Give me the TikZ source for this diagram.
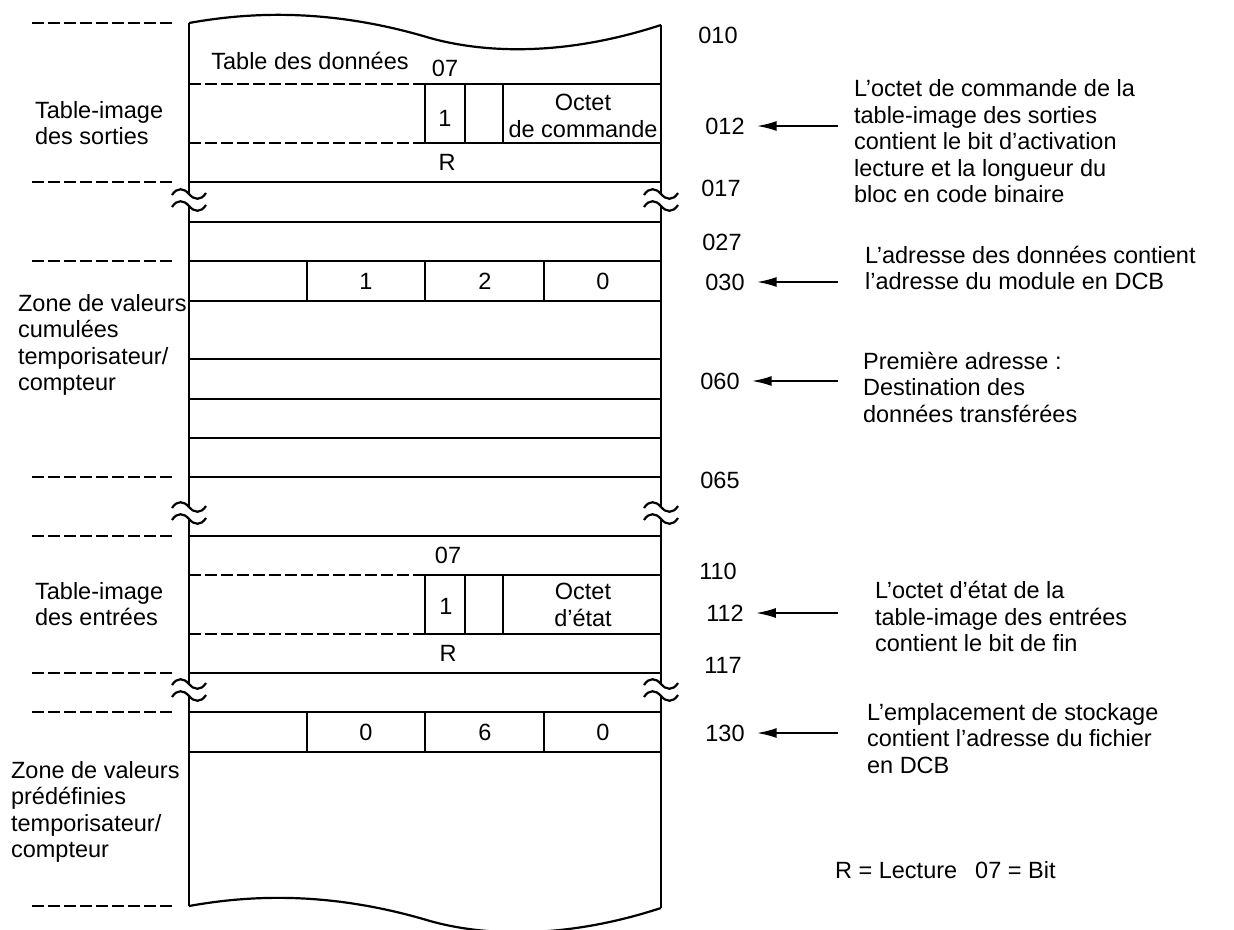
\documentclass[tikz,border=0pt]{standalone}
\usepackage{fontspec}
\setmainfont{Liberation Sans}
\usetikzlibrary{positioning, calc, arrows.meta}

\tikzset{
  cutdash/.style={dash pattern=on 11.5pt off 4.5pt},
  adr/.style={inner sep=1pt},
  note/.style={align=left, anchor=west, inner sep=0pt},
  cell/.style={inner sep=0pt},
  ptr/.style={-{Latex[length=20pt,width=10pt]}, line width=2pt, shorten >=10pt},
}

\begin{document}
\begin{tikzpicture}[
  x=1pt, y=-1pt,
  font=\fontsize{23.5}{26.5}\selectfont,
  line width=2.2pt,
]
\useasboundingbox (0,0) rectangle (1234,929);

% ---------- torn top and bottom of the table ----------
\draw (189,23) .. controls (250,12) and (330,8) .. (430,38)
  .. controls (480,52) and (560,58) .. (661,25);
\draw (189,906) .. controls (250,895) and (330,891) .. (430,921)
  .. controls (480,935) and (560,941) .. (661,908);

% ---------- side walls, cut at the breaks ----------
\draw (189,23) -- (189,194) (189,206) -- (189,507)
  (189,519) -- (189,684) (189,696) -- (189,906);
\draw (661,25) -- (661,194) (661,206) -- (661,507)
  (661,519) -- (661,684) (661,696) -- (661,908);

% ---------- break marks ----------
\foreach \yb in {194,507,684}
  \foreach \xb in {189,661} {
    \begin{scope}[shift={(\xb,\yb)}]
      \draw (-17,1) .. controls (-12,-7) and (-5,-6) .. (0,0)
        .. controls (5,6) and (12,7) .. (17,-1);
      \draw (-17,13) .. controls (-12,5) and (-5,6) .. (0,12)
        .. controls (5,18) and (12,19) .. (17,11);
    \end{scope}
  }

% ---------- word rows ----------
\foreach \y in {182,222,261,301,359,399,438,477,536,673,712,752}
  \draw (189,\y) -- (661,\y);

% control / status byte rows
\foreach \y in {84,143,575,634} {
  \draw[cutdash] (189,\y) -- (425,\y);
  \draw (425,\y) -- (661,\y);
}
\foreach \y in {84,575}
  \foreach \x in {425,465,503}
    \draw (\x,\y) -- (\x,\y+59);

% address rows (BCD digits)
\foreach \y in {261,712}
  \foreach \x in {307,425,544}
    \draw (\x,\y) -- (\x,\y+40);

% ---------- zone limits on the left ----------
\foreach \y in {23,182,261,477,536,673,712,906}
  \draw[cutdash] (32,\y) -- (172,\y);

% ---------- texts inside the table ----------
\node[cell] (tdTitle) at (310,61) {Table des données};
\node[cell] (bitOut) at (445,68) {07};
\node[cell] (oneOut) at (445,118) {1};
\node[cell, align=center] (cmdByte) at (583,116) {Octet\\de commande};
\node[cell] (rdOut) at (447,162) {R};

\node[cell] (dgA1) at (366,281) {1};
\node[cell] (dgA2) at (485,281) {2};
\node[cell] (dgA3) at (603,281) {0};

\node[cell] (bitIn) at (448,555) {07};
\node[cell] (oneIn) at (446,606) {1};
\node[cell, align=center] (stsByte) at (583,605) {Octet\\d’état};
\node[cell] (rdIn) at (448,653) {R};

\node[cell] (dgB1) at (366,732) {0};
\node[cell] (dgB2) at (485,732) {6};
\node[cell] (dgB3) at (603,732) {0};

% ---------- zone names ----------
\node[note] (zOut) at (34,123) {Table-image\\des sorties};
\node[note] (zAcc) at (17,345) {Zone de valeurs\\cumulées\\temporisateur/\\compteur};
\node[note] (zIn) at (34,604) {Table-image\\des entrées};
\node[note] (zPre) at (10,812) {Zone de valeurs\\prédéfinies\\temporisateur/\\compteur};

% ---------- addresses ----------
\node[adr] (adr010) at (718,35) {010};
\node[adr] (adr012) at (725,126) {012};
\node[adr] (adr017) at (721,188) {017};
\node[adr] (adr027) at (722,242) {027};
\node[adr] (adr030) at (725,282) {030};
\node[adr] (adr060) at (720,381) {060};
\node[adr] (adr065) at (720,480) {065};
\node[adr] (adr110) at (718,571) {110};
\node[adr] (adr112) at (725,613) {112};
\node[adr] (adr117) at (723,665) {117};
\node[adr] (adr130) at (725,733) {130};

% ---------- pointers ----------
\foreach \a/\y in {012/126, 030/282, 060/381, 112/613, 130/733} {
  \coordinate (t\a) at (838,\y);
  \draw[ptr] (t\a) -- (adr\a);
}

% ---------- explanations ----------
\node[note] (nCmd) at (853,141.5) {L’octet de commande de la\\table-image des sorties\\contient le bit d’activation\\lecture et la longueur du\\bloc en code binaire};
\node[note] (nAdr) at (864,268) {L’adresse des données contient\\l’adresse du module en DCB};
\node[note] (nDst) at (862,387) {Première adresse :\\Destination des\\données transférées};
\node[note] (nSts) at (874,616.5) {L’octet d’état de la\\table-image des entrées\\contient le bit de fin};
\node[note] (nSto) at (866,738.5) {L’emplacement de stockage\\contient l’adresse du fichier\\en DCB};
\node[note] (legend) at (834,870) {R = Lecture\hspace{18pt}07 = Bit};

\end{tikzpicture}
\end{document}
